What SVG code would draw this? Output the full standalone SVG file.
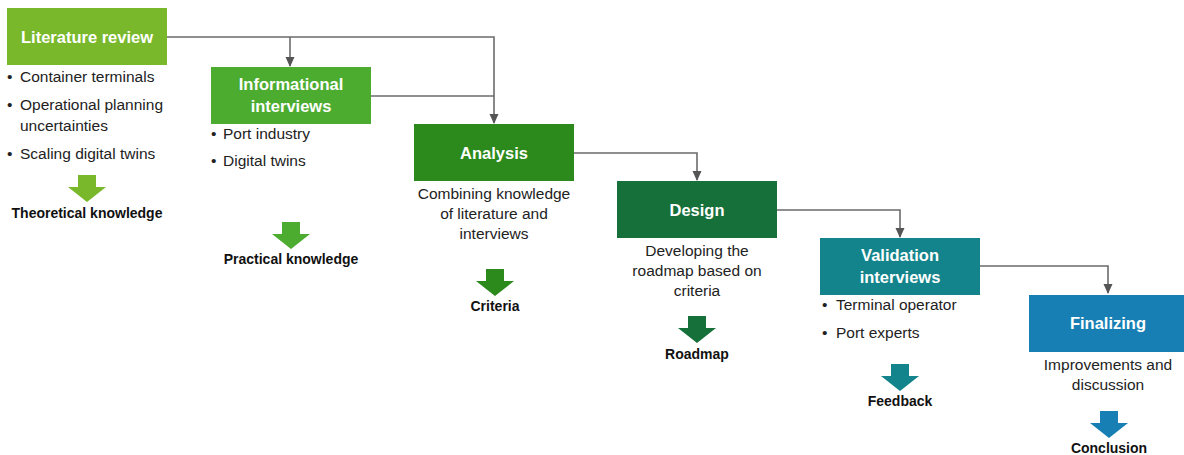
<svg xmlns="http://www.w3.org/2000/svg" width="1184" height="455" viewBox="0 0 1184 455">
  <style>
    .title { font-family: "Liberation Sans", Arial, sans-serif; font-weight: bold; font-size: 16.5px; fill: #ffffff; text-anchor: middle; }
    .body { font-family: "Liberation Sans", Arial, sans-serif; font-size: 15.5px; fill: #222222; }
    .mid { text-anchor: middle; }
    .out { font-family: "Liberation Sans", Arial, sans-serif; font-weight: bold; font-size: 14px; fill: #111111; text-anchor: middle; }
    .link { fill: none; stroke: #6b6b6b; stroke-width: 1.6; }
  </style>
  <defs>
    <marker id="tip" markerUnits="userSpaceOnUse" markerWidth="10" markerHeight="10" viewBox="0 0 10 10" refX="9" refY="5" orient="auto">
      <path d="M0,0.5 L10,5 L0,9.5 Z" fill="#555555"/>
    </marker>
    <!-- block arrow pointing down, origin at top centre -->
    <path id="down" d="M-9,0 H9 V12 H19 L0,27 L-19,12 H-9 Z"/>
  </defs>

  <rect width="1184" height="455" fill="#ffffff"/>

  <g id="connectors">
    <path class="link" d="M167,37 H494 V123" marker-end="url(#tip)"/>
    <path class="link" d="M290,37 V66" marker-end="url(#tip)"/>
    <path class="link" d="M371,96 H494"/>
    <path class="link" d="M574,153 H697 V180" marker-end="url(#tip)"/>
    <path class="link" d="M777,210 H900 V237" marker-end="url(#tip)"/>
    <path class="link" d="M979,266 H1108 V293" marker-end="url(#tip)"/>
  </g>

  <g id="literature-review">
    <rect x="7" y="8" width="160" height="57" fill="#78b82a"/>
    <text class="title" x="87" y="43">Literature review</text>
    <text class="body" x="7" y="82">• <tspan x="20">Container terminals</tspan></text>
    <text class="body" x="7" y="110">• <tspan x="20">Operational planning</tspan></text>
    <text class="body" x="20" y="131">uncertainties</text>
    <text class="body" x="7" y="159">• <tspan x="20">Scaling digital twins</tspan></text>
    <use href="#down" x="87" y="175" fill="#78b82a"/>
    <text class="out" x="87" y="218">Theoretical knowledge</text>
  </g>

  <g id="informational-interviews">
    <rect x="211" y="67" width="160" height="57" fill="#4cac30"/>
    <text class="title" x="291" y="90">Informational</text>
    <text class="title" x="291" y="112">interviews</text>
    <text class="body" x="211" y="139">• <tspan x="223">Port industry</tspan></text>
    <text class="body" x="211" y="166">• <tspan x="223">Digital twins</tspan></text>
    <use href="#down" x="291" y="222" fill="#4cac30"/>
    <text class="out" x="291" y="264">Practical knowledge</text>
  </g>

  <g id="analysis">
    <rect x="414" y="124" width="160" height="57" fill="#2b8a1b"/>
    <text class="title" x="494" y="159">Analysis</text>
    <text class="body mid" x="494" y="199">Combining knowledge</text>
    <text class="body mid" x="494" y="219">of literature and</text>
    <text class="body mid" x="494" y="239">interviews</text>
    <use href="#down" x="495" y="269" fill="#2b8a1b"/>
    <text class="out" x="495" y="311">Criteria</text>
  </g>

  <g id="design">
    <rect x="617" y="181" width="160" height="57" fill="#16703a"/>
    <text class="title" x="697" y="216">Design</text>
    <text class="body mid" x="697" y="256">Developing the</text>
    <text class="body mid" x="697" y="276">roadmap based on</text>
    <text class="body mid" x="697" y="296">criteria</text>
    <use href="#down" x="697" y="316" fill="#16703a"/>
    <text class="out" x="697" y="359">Roadmap</text>
  </g>

  <g id="validation-interviews">
    <rect x="820" y="238" width="160" height="57" fill="#13848b"/>
    <text class="title" x="900" y="261">Validation</text>
    <text class="title" x="900" y="283">interviews</text>
    <text class="body" x="822" y="310">• <tspan x="836">Terminal operator</tspan></text>
    <text class="body" x="822" y="338">• <tspan x="836">Port experts</tspan></text>
    <use href="#down" x="900" y="364" fill="#13848b"/>
    <text class="out" x="900" y="406">Feedback</text>
  </g>

  <g id="finalizing">
    <rect x="1029" y="295" width="160" height="57" fill="#177fb3"/>
    <text class="title" x="1108" y="329">Finalizing</text>
    <text class="body mid" x="1108" y="370">Improvements and</text>
    <text class="body mid" x="1108" y="390">discussion</text>
    <use href="#down" x="1109" y="411" fill="#177fb3"/>
    <text class="out" x="1109" y="453">Conclusion</text>
  </g>
</svg>
